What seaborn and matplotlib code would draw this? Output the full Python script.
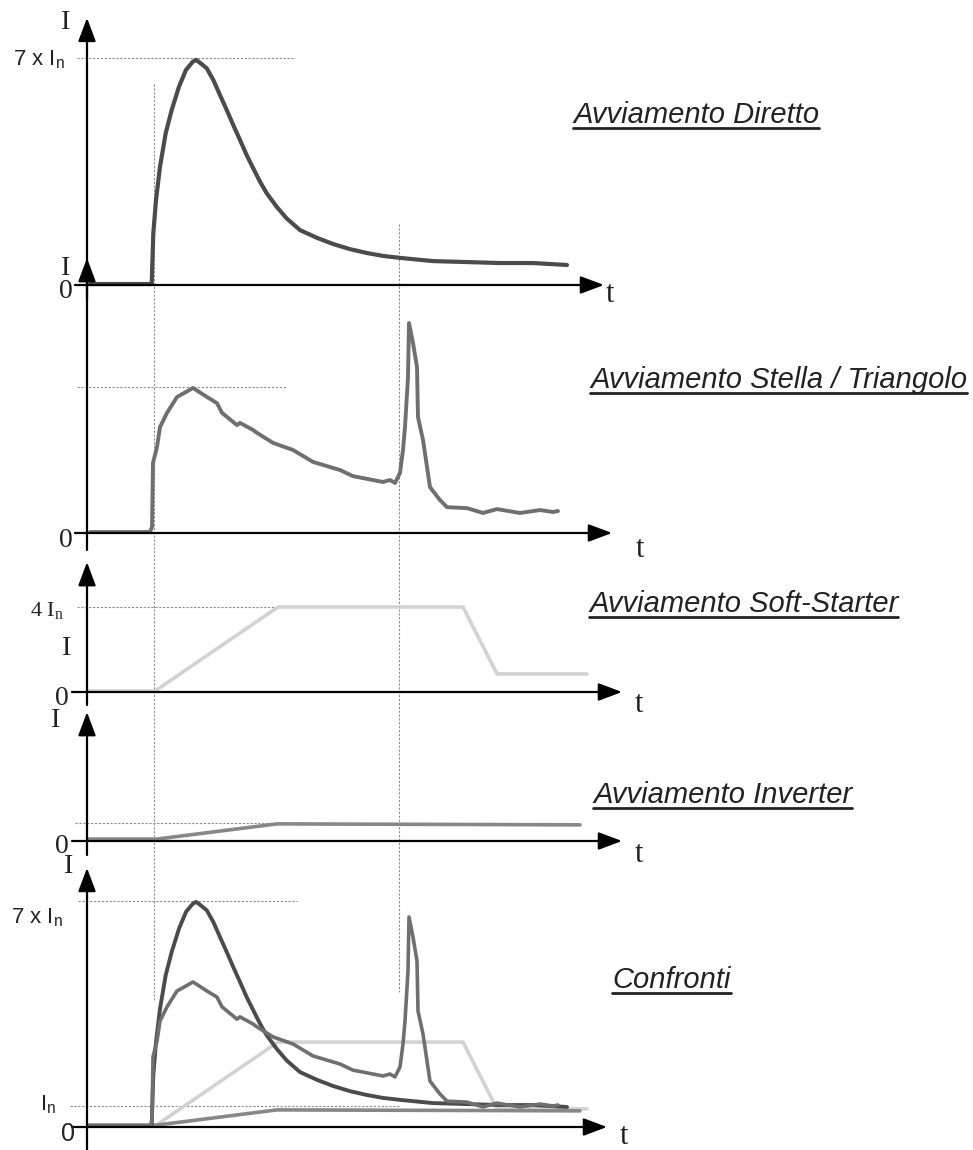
import matplotlib
matplotlib.use("Agg")
import matplotlib.pyplot as plt
import matplotlib.transforms as mtransforms
from matplotlib.lines import Line2D
import seaborn as sns

# ---- data (time in arbitrary units, current in sketch units: 7 = 7 x In) ----
diretto_t = [0.06, 1.26, 1.294, 1.326, 1.38, 1.46, 1.574, 1.694, 1.84, 1.98, 2.114,
             2.18, 2.26, 2.394, 2.526, 2.66, 2.794, 2.926, 3.06, 3.194, 3.326, 3.46,
             3.594, 3.794, 3.994, 4.26, 4.60, 4.92, 5.26, 5.60, 5.92, 6.26, 6.92,
             7.60, 8.26, 8.92, 9.60]
diretto_i = [0.03, 0.03, 0.05, 1.60, 2.63, 3.66, 4.70, 5.42, 6.14, 6.66, 6.91,
             6.97, 6.88, 6.71, 6.35, 5.88, 5.42, 4.95, 4.49, 4.02, 3.61, 3.20,
             2.84, 2.42, 2.06, 1.70, 1.46, 1.27, 1.11, 0.99, 0.90, 0.84, 0.74,
             0.71, 0.68, 0.68, 0.62]

stella_t = [0.06, 1.26, 1.30, 1.32, 1.40, 1.46, 1.60, 1.80, 2.12, 2.40, 2.60,
            2.70, 3.00, 3.06, 3.32, 3.40, 3.72, 4.12, 4.52, 5.06, 5.32, 5.92,
            6.06, 6.16, 6.26, 6.32, 6.36, 6.42, 6.44, 6.52, 6.60, 6.62, 6.72,
            6.86, 7.06, 7.20, 7.60, 7.92, 8.20, 8.66, 9.06, 9.32, 9.42]
stella_i = [0.03, 0.03, 0.19, 2.17, 2.66, 3.28, 3.72, 4.21, 4.49, 4.21, 4.02,
            3.72, 3.34, 3.41, 3.19, 3.10, 2.79, 2.57, 2.20, 1.95, 1.76, 1.58,
            1.64, 1.55, 1.86, 2.57, 3.28, 4.83, 6.50, 5.88, 5.14, 3.59, 2.88,
            1.42, 1.02, 0.80, 0.77, 0.62, 0.74, 0.62, 0.71, 0.65, 0.68]

soft_t = [0.02, 1.36, 3.82, 7.52, 8.20, 10.00]
soft_i = [0.03, 0.03, 2.63, 2.63, 0.56, 0.56]

inverter_t = [0.02, 1.40, 3.80, 9.86]
inverter_i = [0.06, 0.06, 0.53, 0.50]

titles = ["Avviamento Diretto", "Avviamento Stella / Triangolo",
          "Avviamento Soft-Starter", "Avviamento Inverter", "Confronti"]

# ---- layout (pixels) ----
W, H = 973, 1150
T0, PX_T, S = 87, 50.0, 32.3     # x of t=0, px per time unit, px per current unit

sns.set_theme(style="white")
plt.rcParams["font.family"] = ["Liberation Sans", "DejaVu Sans"]

fig = plt.figure(figsize=(W / 100, H / 100), dpi=100)
fig.patch.set_facecolor("white")

# baseline, top, bottom, arrow tip (current units), x-axis start/end (time units)
panels = [
    dict(base=285, top=0, bot=300, ytip=8.27, x0=-0.24, x1=10.34),
    dict(base=533, top=250, bot=550, ytip=8.51, x0=-0.24, x1=10.50),
    dict(base=692, top=550, bot=705, ytip=4.02, x0=-0.30, x1=10.70),
    dict(base=841, top=705, bot=855, ytip=3.99, x0=-0.30, x1=10.70),
    dict(base=1127, top=855, bot=1150, ytip=8.02, x0=-0.30, x1=10.40),
]

axes = []
for p in panels:
    ax = fig.add_axes([0, 1 - p["bot"] / H, 1, (p["bot"] - p["top"]) / H])
    ax.set_xlim(-T0 / PX_T, (W - T0) / PX_T)
    ax.set_ylim(-(p["bot"] - p["base"]) / S, (p["base"] - p["top"]) / S)
    ax.axis("off")
    ax.patch.set_alpha(0)
    arrow = dict(arrowstyle="-|>,head_length=1.2,head_width=0.45", color="black",
                 lw=1.6, shrinkA=0, shrinkB=0)
    ax.annotate("", xy=(0, p["ytip"]), xytext=(0, ax.get_ylim()[0]),
                arrowprops=arrow, annotation_clip=False)
    ax.annotate("", xy=(p["x1"], 0), xytext=(p["x0"], 0),
                arrowprops=arrow, annotation_clip=False)
    axes.append(ax)

guide = dict(color="#8c8c8c", lw=0.8, linestyle=(0, (2, 1.5)), zorder=1)
# horizontal guides: panel, level, t start, t end
for k, lvl, a, b in [(0, 7.03, -0.2, 4.16), (1, 4.52, -0.2, 4.0), (2, 2.63, -0.2, 4.3),
                     (3, 0.56, -0.24, 4.3), (4, 7.0, -0.18, 4.2), (4, 0.65, -0.34, 6.26)]:
    axes[k].plot([a, b], [lvl, lvl], **guide, clip_on=False)

# vertical guides across all panels
trans = mtransforms.blended_transform_factory(axes[0].transData, fig.transFigure)
for t, ytop, ybot in [(1.34, 84, 1000), (6.24, 224, 992)]:
    axes[0].plot([t, t], [1 - ytop / H, 1 - ybot / H], transform=trans,
                 clip_on=False, scalex=False, scaley=False, **guide)

curve = dict(estimator=None, sort=False, legend=False,
             solid_capstyle="round", solid_joinstyle="round")
c_dir, c_ste, c_soft, c_inv = "#4b4b4b", "#6f6f6f", "#d2d2d2", "#878787"

sns.lineplot(x=diretto_t, y=diretto_i, ax=axes[0], color=c_dir, lw=3.0, **curve)
sns.lineplot(x=stella_t, y=stella_i, ax=axes[1], color=c_ste, lw=2.8, **curve)
sns.lineplot(x=soft_t, y=soft_i, ax=axes[2], color=c_soft, lw=2.6, **curve)
sns.lineplot(x=inverter_t, y=inverter_i, ax=axes[3], color=c_inv, lw=2.6, **curve)

sns.lineplot(x=soft_t, y=soft_i, ax=axes[4], color=c_soft, lw=2.6, **curve)
sns.lineplot(x=inverter_t, y=inverter_i, ax=axes[4], color=c_inv, lw=2.6, **curve)
sns.lineplot(x=diretto_t, y=diretto_i, ax=axes[4], color=c_dir, lw=2.8, **curve)
sns.lineplot(x=stella_t, y=stella_i, ax=axes[4], color=c_ste, lw=2.6, **curve)


def label(x, y, s, **kw):
    kw.setdefault("color", "#222222")
    return fig.text(x / W, 1 - y / H, s, va="baseline", **kw)


serif = dict(family=["Liberation Serif", "DejaVu Serif"])
sans = dict(family=["Liberation Sans", "DejaVu Sans"])

for x, y in [(66, 29), (66, 275), (67, 655), (56, 727), (69, 873)]:
    label(x, y, "I", ha="center", fontsize=20, **serif)
for x, y in [(66, 298), (66, 547), (62, 705), (62, 853)]:
    label(x, y, "0", ha="center", fontsize=20, **serif)
label(68, 1141, "0", ha="center", fontsize=18, **sans)
for x, y in [(610, 302), (640, 557), (639, 712), (639, 862), (624, 1144)]:
    label(x, y, "t", ha="center", fontsize=22, **serif)

label(65, 65, r"7 x $\mathregular{I_n}$", ha="right", fontsize=16, **sans)
label(63, 923, r"7 x $\mathregular{I_n}$", ha="right", fontsize=16, **sans)
label(56, 1110, r"$\mathregular{I_n}$", ha="right", fontsize=16, **sans)
label(64, 616, r"4 $\mathregular{I_n}$", ha="right", fontsize=16, **serif)

title_pos = [(573, 123), (590, 388), (589, 612), (593, 803), (612, 988)]
title_txt = [label(x, y, s, ha="left", fontsize=21, style="italic", **sans)
             for (x, y), s in zip(title_pos, titles)]

# underline the titles
fig.canvas.draw()
for (x, y), txt in zip(title_pos, title_txt):
    bb = txt.get_window_extent()
    yy = 1 - (y + 5) / H
    fig.add_artist(Line2D([bb.x0 / W, bb.x1 / W], [yy, yy], transform=fig.transFigure,
                          color="#222222", lw=2.0))

fig.savefig("out.png", dpi=100)
